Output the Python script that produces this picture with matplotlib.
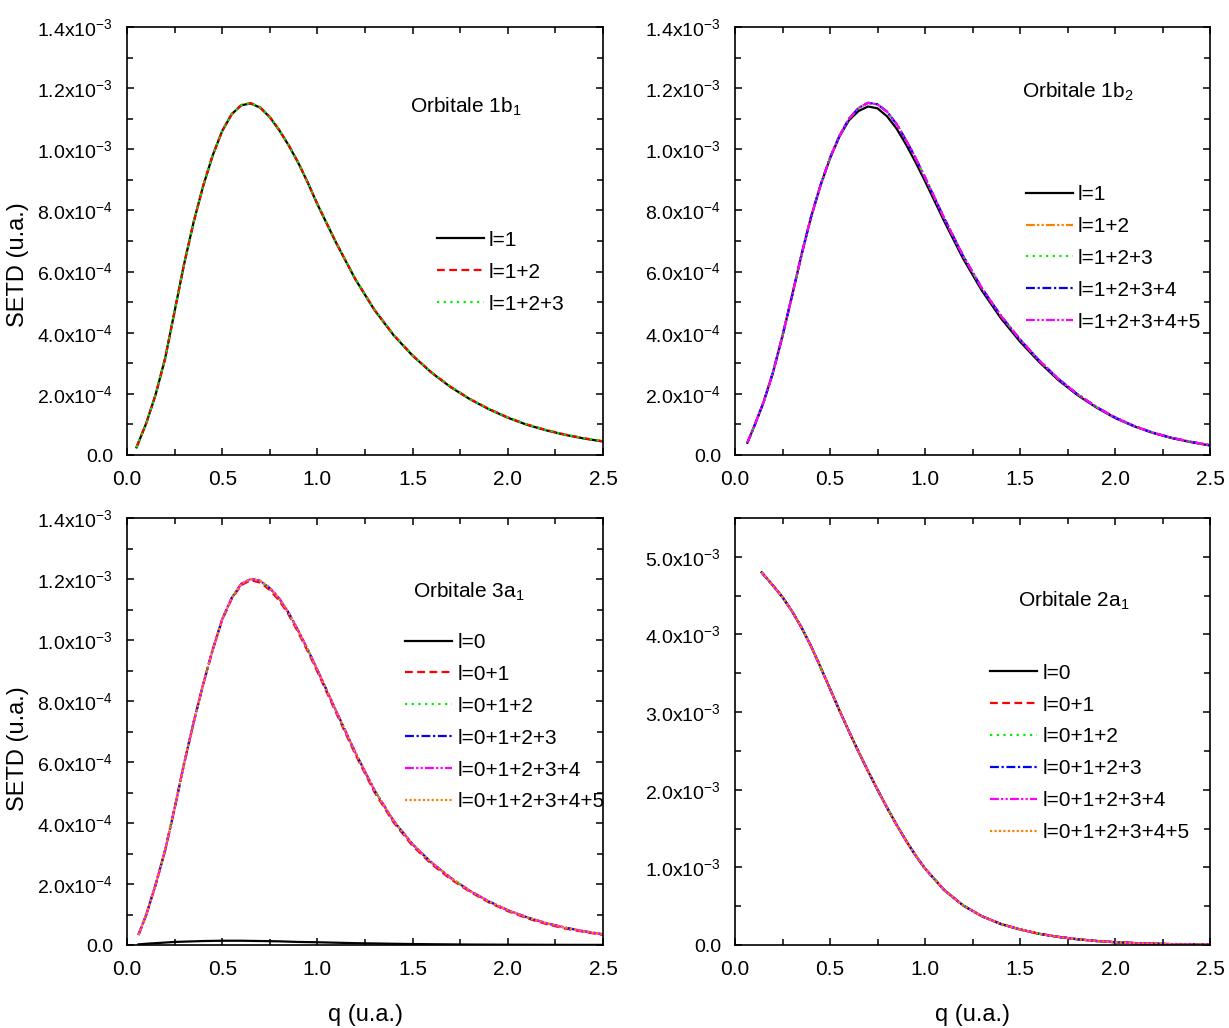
import numpy as np
import matplotlib
matplotlib.use("Agg")
import matplotlib.pyplot as plt
from matplotlib.ticker import MultipleLocator, FuncFormatter

plt.rcParams['font.family'] = ['Liberation Sans Narrow', 'Liberation Sans', 'DejaVu Sans']
plt.rcParams['mathtext.fontset'] = 'custom'
plt.rcParams['mathtext.rm'] = 'Liberation Sans'
plt.rcParams['mathtext.it'] = 'Liberation Sans'
plt.rcParams['mathtext.default'] = 'regular'

# ---------------- data ----------------
# Orbitale 1b1  (values x1e-4)
q_1b1 = [0.05, 0.10, 0.15, 0.20, 0.25, 0.30, 0.35, 0.40, 0.45, 0.50, 0.55, 0.60,
         0.65, 0.70, 0.75, 0.80, 0.85, 0.90, 0.95, 1.00, 1.10, 1.20, 1.30, 1.40,
         1.50, 1.60, 1.70, 1.80, 1.90, 2.00, 2.10, 2.20, 2.30, 2.40, 2.50]
v_1b1_l1 = [0.25, 1.02, 1.97, 3.15, 4.70, 6.25, 7.62, 8.80, 9.80, 10.60, 11.15, 11.44,
            11.50, 11.36, 11.05, 10.62, 10.12, 9.55, 8.90, 8.20, 6.92, 5.74, 4.74, 3.92,
            3.25, 2.69, 2.22, 1.83, 1.50, 1.22, 0.99, 0.81, 0.66, 0.54, 0.44]
v_1b1_l12 = [0.25, 1.02, 1.97, 3.15, 4.70, 6.25, 7.62, 8.80, 9.80, 10.60, 11.15, 11.45,
             11.51, 11.37, 11.06, 10.63, 10.13, 9.56, 8.91, 8.21, 6.93, 5.75, 4.75, 3.93,
             3.26, 2.70, 2.23, 1.84, 1.51, 1.23, 1.00, 0.82, 0.67, 0.55, 0.45]
v_1b1_l123 = v_1b1_l12

# Orbitale 1b2  (values x1e-4)
q_1b2 = [0.065, 0.10, 0.15, 0.20, 0.25, 0.30, 0.35, 0.40, 0.45, 0.50, 0.55, 0.60,
         0.65, 0.70, 0.75, 0.80, 0.85, 0.90, 0.95, 1.00, 1.10, 1.20, 1.30, 1.40,
         1.50, 1.60, 1.70, 1.80, 1.90, 2.00, 2.10, 2.20, 2.30, 2.40, 2.50]
v_1b2_l1 = [0.40, 0.92, 1.72, 2.70, 3.90, 5.20, 6.55, 7.78, 8.82, 9.70, 10.42, 10.95,
            11.25, 11.40, 11.34, 11.08, 10.68, 10.16, 9.58, 8.96, 7.66, 6.43, 5.37, 4.47,
            3.71, 3.05, 2.46, 1.97, 1.56, 1.21, 0.94, 0.72, 0.55, 0.42, 0.31]
v_1b2_l12 = [0.40, 0.92, 1.72, 2.70, 3.90, 5.20, 6.55, 7.78, 8.82, 9.72, 10.45, 11.00,
             11.35, 11.52, 11.47, 11.23, 10.83, 10.30, 9.72, 9.08, 7.76, 6.52, 5.45, 4.55,
             3.78, 3.10, 2.50, 2.00, 1.58, 1.23, 0.95, 0.73, 0.56, 0.43, 0.32]
v_1b2_l123 = v_1b2_l12
v_1b2_l1234 = v_1b2_l12
v_1b2_l12345 = v_1b2_l12

# Orbitale 3a1  (values x1e-4)
q_3a1 = [0.06, 0.10, 0.15, 0.20, 0.25, 0.30, 0.35, 0.40, 0.45, 0.50, 0.55, 0.60,
         0.65, 0.70, 0.75, 0.80, 0.85, 0.90, 0.95, 1.00, 1.10, 1.20, 1.30, 1.40,
         1.50, 1.60, 1.70, 1.80, 1.90, 2.00, 2.10, 2.20, 2.30, 2.40, 2.50]
v_3a1_l0 = [0.02, 0.04, 0.06, 0.08, 0.10, 0.11, 0.12, 0.13, 0.135, 0.14, 0.14, 0.14,
            0.135, 0.13, 0.125, 0.12, 0.11, 0.10, 0.095, 0.09, 0.075, 0.06, 0.05, 0.04,
            0.032, 0.025, 0.02, 0.015, 0.012, 0.01, 0.008, 0.006, 0.005, 0.004, 0.004]
v_3a1_l01 = [0.33, 0.97, 1.97, 3.10, 4.48, 5.95, 7.30, 8.55, 9.68, 10.66, 11.35, 11.80,
             11.96, 11.88, 11.64, 11.29, 10.82, 10.24, 9.62, 8.96, 7.59, 6.24, 5.01, 4.02,
             3.25, 2.65, 2.16, 1.75, 1.40, 1.11, 0.88, 0.69, 0.54, 0.43, 0.33]
v_3a1_l012 = [0.33, 0.97, 1.97, 3.10, 4.48, 5.95, 7.30, 8.55, 9.68, 10.68, 11.38, 11.84,
              12.00, 11.94, 11.70, 11.36, 10.88, 10.30, 9.68, 9.02, 7.65, 6.30, 5.07, 4.07,
              3.30, 2.70, 2.20, 1.78, 1.43, 1.14, 0.91, 0.72, 0.57, 0.45, 0.35]
v_3a1_l0123 = v_3a1_l012
v_3a1_l01234 = v_3a1_l012
v_3a1_l012345 = v_3a1_l012

# Orbitale 2a1  (values x1e-3)
q_2a1 = [0.14, 0.20, 0.25, 0.30, 0.35, 0.40, 0.45, 0.50, 0.55, 0.60, 0.65, 0.70,
         0.75, 0.80, 0.85, 0.90, 0.95, 1.00, 1.10, 1.20, 1.30, 1.40, 1.50, 1.60,
         1.70, 1.80, 1.90, 2.00, 2.10, 2.20, 2.30, 2.40, 2.50]
v_2a1_l0 = [4.80, 4.63, 4.48, 4.30, 4.09, 3.85, 3.58, 3.30, 3.02, 2.75, 2.49, 2.24,
            2.00, 1.77, 1.55, 1.345, 1.155, 0.985, 0.71, 0.51, 0.37, 0.27, 0.20, 0.145,
            0.105, 0.075, 0.052, 0.036, 0.025, 0.017, 0.011, 0.007, 0.005]
v_2a1_l01 = v_2a1_l0
v_2a1_l012 = v_2a1_l0
v_2a1_l0123 = v_2a1_l0
v_2a1_l01234 = v_2a1_l0
v_2a1_l012345 = v_2a1_l0

labels_1b1 = ['l=1', 'l=1+2', 'l=1+2+3']
labels_1b2 = ['l=1', 'l=1+2', 'l=1+2+3', 'l=1+2+3+4', 'l=1+2+3+4+5']
labels_a1 = ['l=0', 'l=0+1', 'l=0+1+2', 'l=0+1+2+3', 'l=0+1+2+3+4', 'l=0+1+2+3+4+5']

# ---------------- styles ----------------
BLACK = dict(color='black', linestyle='-')
RED = dict(color='#ff0000', linestyle=(0, (3.5, 2.0)))
GREEN = dict(color='#00ee00', linestyle=(0, (1, 2.0)))
BLUE = dict(color='#0000ff', linestyle=(0, (4, 1.2, 1, 1.2)))
MAGENTA = dict(color='#ff00ff', linestyle=(0, (4, 1, 1, 1, 1, 1)))
ORANGE_DDD = dict(color='#ff8000', linestyle=(0, (4, 1, 1, 1, 1, 1)))
ORANGE_DOT = dict(color='#ff8000', linestyle=(0, (1, 1)))

LW = 1.6
FS_TICK = 14
FS_LEG = 15

fig = plt.figure(figsize=(12.29, 10.28), dpi=100)
W, H = 1229.0, 1028.0


def make_ax(l, t, r, b):
    return fig.add_axes([l / W, 1 - b / H, (r - l) / W, (b - t) / H])


def sci_fmt(v, pos):
    if abs(v) < 1e-12:
        return '0.0'
    e = int(np.floor(np.log10(abs(v)) + 1e-9))
    m = v / 10.0 ** e
    return '%.1fx10$^{%d}$' % (m, e)


def style_axes(ax, ymax, ymajor, yminor):
    ax.set_xlim(0, 2.5)
    ax.set_ylim(0, ymax)
    ax.xaxis.set_major_locator(MultipleLocator(0.5))
    ax.xaxis.set_minor_locator(MultipleLocator(0.25))
    ax.yaxis.set_major_locator(MultipleLocator(ymajor))
    ax.yaxis.set_minor_locator(MultipleLocator(yminor))
    ax.xaxis.set_major_formatter(FuncFormatter(lambda v, p: '%.1f' % v))
    ax.yaxis.set_major_formatter(FuncFormatter(sci_fmt))
    ax.tick_params(which='both', direction='in', top=True, right=True, width=1.1)
    ax.tick_params(which='major', length=5)
    ax.tick_params(which='minor', length=4)
    ax.tick_params(axis='y', which='major', pad=10, labelsize=FS_TICK)
    ax.tick_params(axis='x', which='major', pad=11, labelsize=15)
    for s in ax.spines.values():
        s.set_linewidth(1.2)


def draw(ax, q, series, styles, labels, scale):
    for v, st, lab in zip(series, styles, labels):
        ax.plot(q, np.asarray(v) * scale, lw=LW, label=lab, **st)


def legend(ax, x, y):
    ax.legend(loc='upper left', bbox_to_anchor=(x, y), frameon=False,
              fontsize=FS_LEG, handlelength=2.25, handletextpad=0.25,
              labelspacing=0.62, borderpad=0, borderaxespad=0)


def ylabel(ax, ycenter):
    ax.set_ylabel('SETD (u.a.)', fontsize=17, family=['Liberation Sans', 'DejaVu Sans'])
    ax.yaxis.set_label_coords(-0.205, ycenter)


# top-left
ax1 = make_ax(127, 27, 603, 455)
draw(ax1, q_1b1, [v_1b1_l1, v_1b1_l12, v_1b1_l123], [BLACK, RED, GREEN], labels_1b1, 1e-4)
style_axes(ax1, 1.4e-3, 2e-4, 1e-4)
legend(ax1, 0.651, 0.524)
ax1.text(0.595, 0.813, 'Orbitale 1b$_{1}$', transform=ax1.transAxes, fontsize=15,
         va='center', ha='left')
ylabel(ax1, 0.444)

# top-right
ax2 = make_ax(735, 27, 1210, 455)
draw(ax2, q_1b2, [v_1b2_l1, v_1b2_l12, v_1b2_l123, v_1b2_l1234, v_1b2_l12345],
     [BLACK, ORANGE_DDD, GREEN, BLUE, MAGENTA], labels_1b2, 1e-4)
style_axes(ax2, 1.4e-3, 2e-4, 1e-4)
legend(ax2, 0.612, 0.631)
ax2.text(0.604, 0.848, 'Orbitale 1b$_{2}$', transform=ax2.transAxes, fontsize=15,
         va='center', ha='left')

# bottom-left
ax3 = make_ax(127, 518, 603, 945)
draw(ax3, q_3a1, [v_3a1_l0, v_3a1_l01, v_3a1_l012, v_3a1_l0123, v_3a1_l01234, v_3a1_l012345],
     [BLACK, RED, GREEN, BLUE, MAGENTA, ORANGE_DOT], labels_a1, 1e-4)
style_axes(ax3, 1.4e-3, 2e-4, 1e-4)
legend(ax3, 0.585, 0.731)
ax3.text(0.601, 0.827, 'Orbitale 3a$_{1}$', transform=ax3.transAxes, fontsize=15,
         va='center', ha='left')
ylabel(ax3, 0.461)
ax3.set_xlabel('q (u.a.)', fontsize=17, labelpad=18)

# bottom-right
ax4 = make_ax(735, 518, 1210, 945)
draw(ax4, q_2a1, [v_2a1_l0, v_2a1_l01, v_2a1_l012, v_2a1_l0123, v_2a1_l01234, v_2a1_l012345],
     [BLACK, RED, GREEN, BLUE, MAGENTA, ORANGE_DOT], labels_a1, 1e-3)
style_axes(ax4, 5.5e-3, 1e-3, 5e-4)
legend(ax4, 0.537, 0.659)
ax4.text(0.596, 0.806, 'Orbitale 2a$_{1}$', transform=ax4.transAxes, fontsize=15,
         va='center', ha='left')
ax4.set_xlabel('q (u.a.)', fontsize=17, labelpad=18)

fig.savefig('out.png', dpi=100)
